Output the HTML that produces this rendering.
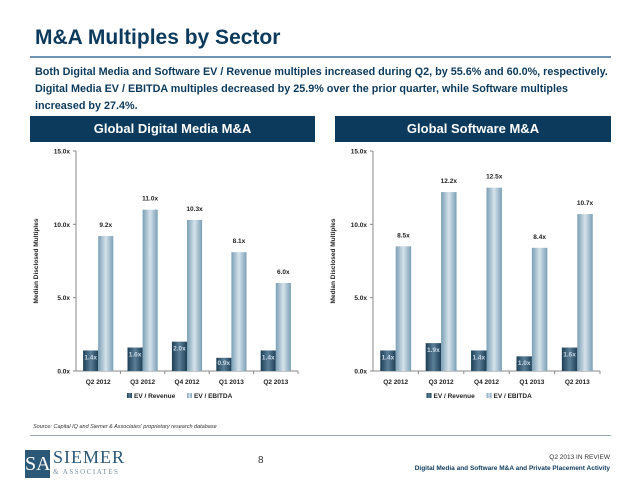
<!DOCTYPE html>
<html><head><meta charset="utf-8">
<style>
body{margin:0;width:638px;height:493px;background:#fff;font-family:"Liberation Sans",sans-serif;overflow:hidden;position:relative}
.abs{position:absolute}
.banner{position:absolute;top:116px;height:26px;background:#0c3a5c;color:#fff;font-weight:bold;font-size:13px;text-align:center;line-height:26px}
</style></head><body>
<div class="abs" style="left:35px;top:26px;font-size:21px;font-weight:bold;color:#0c3a5c">M&amp;A Multiples by Sector</div>
<div class="abs" style="left:30px;top:56px;width:581px;height:2px;background:#6f93b3"></div>
<div class="abs" style="left:35px;top:64px;width:600px;font-size:10.8px;font-weight:bold;color:#0c3a5c;line-height:17px;white-space:nowrap">Both Digital Media and Software EV / Revenue multiples increased during Q2, by 55.6% and 60.0%, respectively.<br>Digital Media EV / EBITDA multiples decreased by 25.9% over the prior quarter, while Software multiples<br>increased by 27.4%.</div>
<div class="banner" style="left:30px;width:285px">Global Digital Media M&amp;A</div>
<div class="banner" style="left:335px;width:276px">Global Software M&amp;A</div>
<svg class="abs" style="left:0;top:0" width="638" height="493" id="svg">
<defs>
<linearGradient id="gd" x1="0" x2="1"><stop offset="0" stop-color="#1d3f56"/><stop offset="0.5" stop-color="#5b7f97"/><stop offset="1" stop-color="#1d3f56"/></linearGradient>
<linearGradient id="gl" x1="0" x2="1"><stop offset="0" stop-color="#7a9fb5"/><stop offset="0.5" stop-color="#d5e2ea"/><stop offset="1" stop-color="#7a9fb5"/></linearGradient>
</defs>
</svg>
<div class="abs" style="left:33px;top:424px;font-size:5.5px;font-style:italic;color:#333">Source: Capital IQ and Siemer &amp; Associates' proprietary research database</div>
<div class="abs" style="left:30px;top:435px;width:581px;height:1px;background:#9aaab5"></div>
<div class="abs" style="left:25px;top:450px;width:25px;height:28px;background:#2c5878;color:#fff;font-family:'Liberation Serif',serif;font-size:20px;line-height:28px;text-align:center">SA</div>
<div class="abs" style="left:53px;top:447px;font-family:'Liberation Serif',serif;font-size:18px;color:#2c5878;letter-spacing:1px">SIEMER</div>
<div class="abs" style="left:53px;top:468px;font-family:'Liberation Serif',serif;font-size:7px;color:#7890a0;letter-spacing:1.5px">&amp; ASSOCIATES</div>
<div class="abs" style="left:258px;top:455px;font-size:10px;color:#333">8</div>
<div class="abs" style="right:28px;top:452px;font-size:6.5px;color:#333;text-align:right;line-height:11px">Q2 2013 IN REVIEW<br><b style="color:#0c3a5c">Digital Media and Software M&amp;A and Private Placement Activity</b></div>
<script>
const categories=["Q2 2012","Q3 2012","Q4 2012","Q1 2013","Q2 2013"];
const dmRevenue=[1.4,1.6,2.0,0.9,1.4];
const dmEbitda=[9.2,11.0,10.3,8.1,6.0];
const swRevenue=[1.4,1.9,1.4,1.0,1.6];
const swEbitda=[8.5,12.2,12.5,8.4,10.7];
const yTicks=[0,5,10,15];
const svg=document.getElementById('svg');
const NS='http://www.w3.org/2000/svg';
function mk(t,a,txt){const e=document.createElementNS(NS,t);for(const k in a)e.setAttribute(k,a[k]);if(txt!==undefined)e.textContent=txt;svg.appendChild(e);return e;}
function chart(x0,x1,rev,ebt,pfx){
  const y0=371,y1=151,max=15;
  const Y=v=>y0-(v/max)*(y0-y1);
  const cw=(x1-x0)/categories.length;
  const X=i=>x0+i*cw;
  let e=mk('line',{x1:x0,y1:y1,x2:x0,y2:y0,stroke:'#888','stroke-width':1});
  
  e=mk('line',{x1:x0,y1:y0,x2:x1,y2:y0,stroke:'#888','stroke-width':1});
  
  yTicks.forEach(t=>{
    mk('line',{x1:x0-3,y1:Y(t),x2:x0,y2:Y(t),stroke:'#888'});
    e=mk('text',{x:x0-6,y:Y(t)+2.5,'text-anchor':'end','font-size':6.5,'font-weight':'bold',fill:'#222'},t.toFixed(1)+'x');
    
  });
  e=mk('text',{transform:`translate(${x0-38},${(y0+y1)/2}) rotate(-90)`,'text-anchor':'middle','font-size':6.5,'font-weight':'bold',fill:'#222'},'Median Disclosed Multiples');
  
  categories.forEach((c,i)=>{
    const bx=X(i)+cw*0.16,bw=cw*0.34;
    mk('line',{x1:X(i+1),y1:y0,x2:X(i+1),y2:y0+3,stroke:'#888'});
    e=mk('rect',{x:bx,y:Y(rev[i]),width:bw,height:y0-Y(rev[i]),fill:'url(#gd)'});
    
    e=mk('text',{x:bx+bw/2,y:Math.min(Y(rev[i])+9,y0-6),'text-anchor':'middle','font-size':6.5,'font-weight':'bold',fill:'#c8d8e4'},rev[i].toFixed(1)+'x');
    
    e=mk('rect',{x:bx+bw,y:Y(ebt[i]),width:bw,height:y0-Y(ebt[i]),fill:'url(#gl)'});
    
    e=mk('text',{x:bx+bw*1.5,y:Y(ebt[i])-9,'text-anchor':'middle','font-size':6.5,'font-weight':'bold',fill:'#222'},ebt[i].toFixed(1)+'x');
    
    e=mk('text',{x:X(i)+cw/2,y:y0+13,'text-anchor':'middle','font-size':6.5,'font-weight':'bold',fill:'#222'},c);
    
  });
  const lx=x0+(x1-x0)/2-60,ly=y0+27;
  e=mk('rect',{x:lx,y:ly-5,width:5,height:5,fill:'url(#gd)'});
  
  e=mk('text',{x:lx+7,y:ly,'font-size':6.5,'font-weight':'bold',fill:'#222'},'EV / Revenue');
  
  e=mk('rect',{x:lx+60,y:ly-5,width:5,height:5,fill:'url(#gl)'});
  
  e=mk('text',{x:lx+67,y:ly,'font-size':6.5,'font-weight':'bold',fill:'#222'},'EV / EBITDA');
  
}
chart(76,298,dmRevenue,dmEbitda,'digital-media');
chart(373,600,swRevenue,swEbitda,'software');
</script>
</body></html>
